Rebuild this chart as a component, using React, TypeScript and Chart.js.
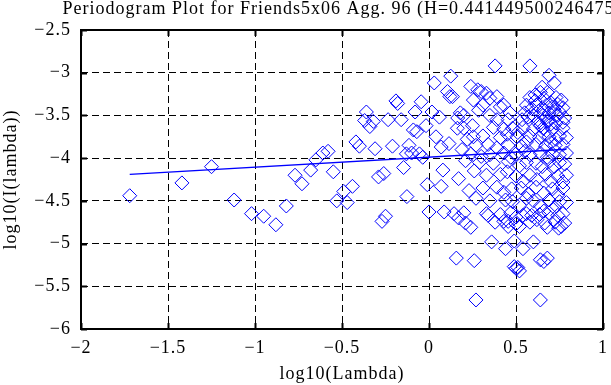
import React, { useEffect, useRef } from "react";
import { Chart, registerables } from "chart.js";

Chart.register(...registerables);

const TITLE = "Periodogram Plot for Friends5x06 Agg. 96 (H=0.441449500246475)";
const X_LABEL = "log10(Lambda)";
const Y_LABEL = "log10(I(lambda))";

const X_MIN = -2;
const X_MAX = 1;
const X_STEP = 0.5;
const Y_MIN = -6;
const Y_MAX = -2.5;
const Y_STEP = 0.5;

// log10(lambda) of each periodogram point
const logLambda: number[] = [
  -1.72, -1.42, -1.25, -1.12, -1.02, -0.95, -0.88, -0.82, -0.77, -0.73,
  -0.68, -0.65, -0.61, -0.58, -0.55, -0.53, -0.49, -0.47, -0.44, -0.42,
  -0.40, -0.37, -0.36, -0.34, -0.32, -0.31, -0.29, -0.27, -0.26, -0.25,
  -0.235, -0.21, -0.19, -0.18, -0.16, -0.146, -0.13, -0.127, -0.115, -0.10,
  -0.09, -0.08, -0.07, -0.055, -0.045, -0.036, -0.017, -0.01, 0.0, 0.017,
  0.03, 0.04, 0.06, 0.07, 0.07, 0.08, 0.087, 0.106, 0.115, 0.12,
  0.125, 0.135, 0.144, 0.157, 0.165, 0.17, 0.17, 0.163,
  // dense region, upper band
  0.38, 0.58, 0.69, 0.72, 0.24, 0.28, 0.30, 0.33, 0.65, 0.64,
  0.68, 0.61, 0.255, 0.35, 0.39, 0.73, 0.58, 0.76, 0.41, 0.43,
  0.31, 0.285, 0.18, 0.20, 0.56, 0.62, 0.675, 0.71, 0.77, 0.35,
  0.39, 0.455, 0.465, 0.55, 0.60, 0.655, 0.69, 0.74, 0.78, 0.535,
  0.625, 0.68, 0.73, 0.77, 0.66, 0.70, 0.63, 0.72, 0.75, 0.67,
  0.59, 0.57, 0.70, 0.64, 0.74, 0.66, 0.61, 0.69,
  // around -3.65
  0.20, 0.37, 0.43, 0.48, 0.54, 0.60, 0.655, 0.71, 0.77, 0.25, 0.51,
  // around -3.75
  0.255, 0.31, 0.41, 0.505, 0.58, 0.635, 0.69, 0.75, 0.79, 0.45, 0.66, 0.73, 0.22,
  // around -3.85
  0.19, 0.27, 0.34, 0.455, 0.53, 0.615, 0.67, 0.725, 0.77, 0.39, 0.56, 0.70,
  // around -3.95
  0.24, 0.35, 0.43, 0.50, 0.58, 0.64, 0.71, 0.75, 0.79, 0.30, 0.47, 0.68, 0.55,
  // around -4.05
  0.29, 0.37, 0.455, 0.56, 0.615, 0.69, 0.75, 0.78, 0.21, 0.52, 0.65, 0.72,
  // around -4.2
  0.33, 0.41, 0.50, 0.58, 0.67, 0.74, 0.79, 0.26, 0.45, 0.62, 0.70, 0.77, 0.54,
  // around -4.35
  0.31, 0.39, 0.475, 0.53, 0.615, 0.71, 0.77, 0.23, 0.43, 0.57, 0.66, 0.74,
  // around -4.5
  0.35, 0.44, 0.48, 0.60, 0.69, 0.75, 0.79, 0.27, 0.52, 0.64, 0.72, 0.56,
  // around -4.65
  0.20, 0.33, 0.41, 0.47, 0.56, 0.635, 0.69, 0.77, 0.34, 0.54, 0.59, 0.74, 0.50, 0.66,
  // around -4.75
  0.21, 0.38, 0.43, 0.455, 0.58, 0.665, 0.725, 0.78, 0.50, 0.62,
  // around -4.8
  0.24, 0.455, 0.52, 0.68, 0.76, 0.745,
  // lower outliers
  0.36, 0.44, 0.49, 0.54, 0.60, 0.26, 0.49, 0.50, 0.51, 0.52,
  0.64, 0.68, 0.66, 0.27, 0.64,
];

// log10(I(lambda)) of each periodogram point
const logPower: number[] = [
  -4.44, -4.29, -4.10, -4.49, -4.65, -4.68, -4.78, -4.56, -4.20, -4.30,
  -4.14, -4.02, -3.94, -3.92, -4.16, -4.50, -4.39, -4.52, -4.33, -3.81,
  -3.86, -3.56, -3.46, -3.63, -3.57, -3.89, -4.22, -4.74, -4.18, -4.68,
  -3.55, -3.86, -3.33, -3.36, -3.55, -4.11, -3.95, -4.45, -3.85, -3.94,
  -3.67, -3.46, -3.69, -3.95, -3.34, -3.99, -3.62, -4.31, -4.63, -3.46,
  -3.12, -3.75, -3.52, -4.33, -3.87, -4.14, -4.63, -3.22, -3.83, -3.28,
  -3.04, -3.28, -4.65, -5.17, -3.53, -4.24, -4.70, -3.65,
  // dense region, upper band
  -2.92, -2.92, -3.03, -3.12, -3.16, -3.20, -3.22, -3.24, -3.17, -3.23,
  -3.23, -3.26, -3.32, -3.30, -3.28, -3.29, -3.29, -3.32, -3.40, -3.38,
  -3.38, -3.44, -3.47, -3.50, -3.38, -3.38, -3.38, -3.40, -3.41, -3.50,
  -3.55, -3.55, -3.47, -3.47, -3.50, -3.50, -3.47, -3.50, -3.53, -3.55,
  -3.58, -3.57, -3.59, -3.58, -3.30, -3.35, -3.45, -3.44, -3.46, -3.53,
  -3.42, -3.52, -3.60, -3.62, -3.37, -3.43, -3.33, -3.56,
  // around -3.65
  -3.65, -3.64, -3.66, -3.65, -3.64, -3.66, -3.65, -3.66, -3.65, -3.62, -3.70,
  // around -3.75
  -3.75, -3.74, -3.76, -3.75, -3.74, -3.76, -3.75, -3.74, -3.76, -3.72, -3.71, -3.78, -3.78,
  // around -3.85
  -3.90, -3.85, -3.84, -3.85, -3.86, -3.84, -3.86, -3.85, -3.84, -3.88, -3.81, -3.82,
  // around -3.95
  -3.95, -3.96, -3.94, -3.95, -3.96, -3.94, -3.95, -3.96, -3.94, -3.98, -3.99, -3.99, -3.92,
  // around -4.05
  -4.05, -4.06, -4.04, -4.05, -4.06, -4.04, -4.05, -4.07, -4.03, -4.09, -4.10, -4.10,
  // around -4.2
  -4.20, -4.19, -4.21, -4.20, -4.19, -4.21, -4.20, -4.15, -4.16, -4.25, -4.27, -4.28, -4.27,
  // around -4.35
  -4.35, -4.34, -4.36, -4.35, -4.34, -4.36, -4.35, -4.38, -4.40, -4.42, -4.41, -4.43,
  // around -4.5
  -4.50, -4.49, -4.51, -4.50, -4.49, -4.51, -4.52, -4.47, -4.55, -4.56, -4.58, -4.47,
  // around -4.65
  -4.64, -4.65, -4.66, -4.64, -4.65, -4.66, -4.64, -4.65, -4.67, -4.67, -4.67, -4.67, -4.69, -4.62,
  // around -4.75
  -4.76, -4.75, -4.74, -4.74, -4.75, -4.76, -4.75, -4.76, -4.77, -4.72,
  // around -4.8
  -4.81, -4.80, -4.80, -4.81, -4.80, -4.82,
  // lower outliers
  -4.98, -5.06, -4.97, -5.06, -4.98, -5.20, -5.27, -5.29, -5.28, -5.32,
  -5.19, -5.17, -5.21, -5.66, -5.66,
];

// least-squares fit line end points
const fitX: number[] = [-1.72, 0.79];
const fitY: number[] = [-4.19, -3.896];

const FONT_FAMILY = "'Liberation Serif', 'Times New Roman', serif";
const FONT_SIZE = 18;
const BLUE = "#0000ff";

const fmt = (v: number) => {
  const r = Math.round(v * 1000) / 1000;
  return String(r).replace("-", "\u2212");
};

export default function App() {
  const canvasRef = useRef<HTMLCanvasElement | null>(null);

  useEffect(() => {
    document.body.style.margin = "0";
    const canvas = canvasRef.current;
    if (!canvas) return;

    const spacing = {
      id: "spacing",
      beforeLayout(chart: any) {
        chart.ctx.letterSpacing = "1px";
      },
      beforeDraw(chart: any) {
        const ctx = chart.ctx;
        ctx.letterSpacing = "1px";
        ctx.save();
        ctx.fillStyle = "#ffffff";
        ctx.fillRect(0, 0, chart.width, chart.height);
        ctx.restore();
      },
    };

    const frame = {
      id: "frame",
      afterDraw(chart: any) {
        const ctx = chart.ctx;
        const { left, right, top, bottom } = chart.chartArea;
        const xs = chart.scales.x;
        const ys = chart.scales.y;
        ctx.save();
        ctx.setLineDash([]);
        ctx.strokeStyle = "#000";
        ctx.lineWidth = 2;
        ctx.strokeRect(left, top, right - left, bottom - top);
        const tl = 6;
        ctx.beginPath();
        xs.ticks.forEach((t: any) => {
          const px = Math.round(xs.getPixelForValue(t.value)) + 0.5;
          ctx.moveTo(px, bottom);
          ctx.lineTo(px, bottom - tl);
          ctx.moveTo(px, top);
          ctx.lineTo(px, top + tl);
        });
        ys.ticks.forEach((t: any) => {
          const py = Math.round(ys.getPixelForValue(t.value)) + 0.5;
          ctx.moveTo(left, py);
          ctx.lineTo(left + tl, py);
          ctx.moveTo(right, py);
          ctx.lineTo(right - tl, py);
        });
        ctx.stroke();
        // title
        ctx.fillStyle = "#000";
        ctx.font = `${FONT_SIZE}px ${FONT_FAMILY}`;
        ctx.letterSpacing = "1px";
        ctx.textAlign = "center";
        ctx.textBaseline = "middle";
        ctx.fillText(TITLE, (left + right) / 2, 9);
        ctx.restore();
      },
    };

    const points = logLambda.map((x, i) => ({ x, y: logPower[i] }));
    const fit = fitX.map((x, i) => ({ x, y: fitY[i] }));

    const chart = new Chart(canvas, {
      type: "scatter",
      data: {
        datasets: [
          {
            label: "fit",
            data: fit,
            showLine: true,
            borderColor: BLUE,
            borderWidth: 1.5,
            pointRadius: 0,
            order: 0,
          },
          {
            label: "periodogram",
            data: points,
            showLine: false,
            pointStyle: "rectRot",
            pointRadius: 7,
            pointBorderWidth: 1,
            borderColor: BLUE,
            backgroundColor: "rgba(0,0,0,0)",
            order: 1,
          },
        ],
      },
      options: {
        animation: false,
        responsive: false,
        devicePixelRatio: 1,
        layout: { padding: { top: 30, right: 3, left: 0, bottom: 0 } },
        plugins: {
          legend: { display: false },
          tooltip: { enabled: false },
          title: { display: false },
        },
        scales: {
          x: {
            type: "linear",
            min: X_MIN,
            max: X_MAX,
            ticks: {
              stepSize: X_STEP,
              color: "#000",
              padding: 8,
              font: { family: FONT_FAMILY, size: FONT_SIZE },
              callback: (v: any) => fmt(Number(v)),
            },
            grid: { color: "#000", lineWidth: 1, drawTicks: false },
            border: { display: false, dash: [7, 4] },
            title: {
              display: true,
              text: X_LABEL,
              color: "#000",
              font: { family: FONT_FAMILY, size: FONT_SIZE },
              padding: { top: 0, bottom: 0 },
            },
            afterFit: (scale: any) => {
              scale.height = 56;
              scale.paddingLeft = 0;
              scale.paddingRight = 0;
            },
          },
          y: {
            type: "linear",
            min: Y_MIN,
            max: Y_MAX,
            ticks: {
              stepSize: Y_STEP,
              color: "#000",
              padding: 10,
              font: { family: FONT_FAMILY, size: FONT_SIZE },
              callback: (v: any) => fmt(Number(v)),
            },
            grid: { color: "#000", lineWidth: 1, drawTicks: false },
            border: { display: false, dash: [7, 4] },
            title: {
              display: true,
              text: Y_LABEL,
              color: "#000",
              font: { family: FONT_FAMILY, size: FONT_SIZE },
              padding: { top: 0, bottom: 0 },
            },
            afterFit: (scale: any) => {
              scale.width = 81;
            },
          },
        },
      },
      plugins: [spacing, frame],
    } as any);

    return () => chart.destroy();
  }, []);

  return (
    <div style={{ width: 611, height: 385, background: "#fff" }}>
      <canvas ref={canvasRef} width={611} height={385} />
    </div>
  );
}
